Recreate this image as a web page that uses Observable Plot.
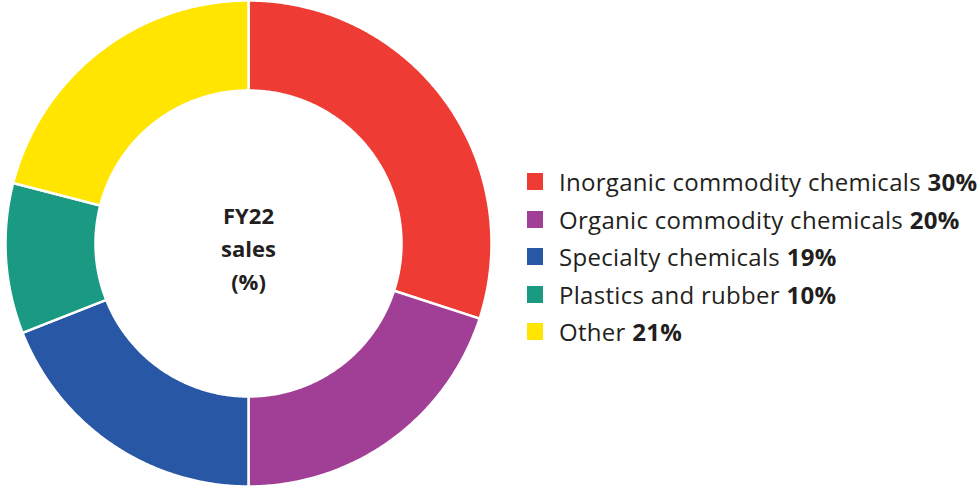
<!DOCTYPE html>
<html>
<head>
<meta charset="utf-8">
<script src="https://cdn.jsdelivr.net/npm/d3@7"></script>
<script src="https://cdn.jsdelivr.net/npm/@observablehq/plot@0.6"></script>
<style>
  html, body { margin: 0; padding: 0; background: #fff; }
  #wrap { position: relative; width: 978px; height: 486px; overflow: hidden; font-family: "Open Sans", Lato, sans-serif; color: #231f20; }
  #chart { position: absolute; left: 0; top: 0; }
  #legend { position: absolute; left: 527px; top: 163px; }
  .row { display: flex; align-items: center; height: 37.5px; }
  .sw { width: 16px; height: 17px; margin-right: 16px; flex: none; }
  .lab { font-size: 24px; white-space: nowrap; letter-spacing: 0.3px; }
  .lab b { font-weight: 700; }
</style>
</head>
<body>
<div id="wrap">
  <div id="chart"></div>
  <div id="legend"></div>
</div>
<script>
const categories = ["Inorganic commodity chemicals", "Organic commodity chemicals", "Specialty chemicals", "Plastics and rubber", "Other"];
const values = [30, 20, 19, 10, 21];
const colors = ["#ee3b33", "#a03f95", "#2857a6", "#1a9a83", "#ffe500"];
const centerLines = ["FY22", "sales", "(%)"];

const innerRatio = 153 / 243;
const total = d3.sum(values);
let cum = 0;
const features = categories.map((c, i) => {
  const a0 = cum / total * 2 * Math.PI;
  cum += values[i];
  const a1 = cum / total * 2 * Math.PI;
  const n = Math.max(8, Math.ceil((a1 - a0) / (Math.PI / 360)));
  const ring = [];
  for (let k = 0; k <= n; k++) {
    const a = a0 + (a1 - a0) * k / n;
    ring.push([Math.sin(a), Math.cos(a)]);
  }
  for (let k = n; k >= 0; k--) {
    const a = a0 + (a1 - a0) * k / n;
    ring.push([innerRatio * Math.sin(a), innerRatio * Math.cos(a)]);
  }
  ring.push(ring[0]);
  return { type: "Feature", properties: { category: c, value: values[i] }, geometry: { type: "Polygon", coordinates: [ring] } };
});

const plot = Plot.plot({
  width: 496,
  height: 486,
  margin: 0,
  projection: { type: "reflect-y", domain: { type: "MultiPoint", coordinates: [[-1, -1], [1, 1]] }, inset: 0 },
  color: { type: "ordinal", domain: categories, range: colors },
  marks: [
    Plot.geo(features, { fill: d => d.properties.category, stroke: "white", strokeWidth: 2.5 }),
    Plot.text([centerLines.join("\n")], { frameAnchor: "middle", text: d => d, fontSize: 22, fontWeight: 700, lineHeight: 1.5, fill: "#231f20", fontFamily: "'Open Sans', Lato, sans-serif", dy: 3 })
  ]
});
document.getElementById("chart").appendChild(plot);

const legend = d3.select("#legend");
categories.forEach((c, i) => {
  const row = legend.append("div").attr("class", "row");
  row.append("div").attr("class", "sw").style("background", colors[i]);
  const lab = row.append("div").attr("class", "lab");
  lab.append("span").text(c + " ");
  lab.append("b").text(values[i] + "%");
});
</script>
</body>
</html>
